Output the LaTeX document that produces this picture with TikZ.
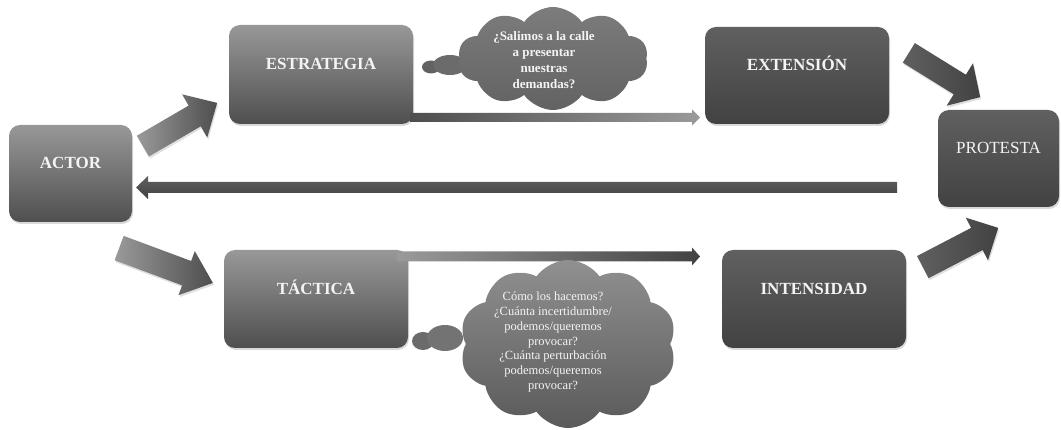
\documentclass[tikz,border=0pt]{standalone}
\usepackage{fontspec}
\setmainfont{Liberation Serif}
\usetikzlibrary{shapes.symbols,shapes.geometric,shadows}
\definecolor{boxlt}{HTML}{989898}
\definecolor{boxlb}{HTML}{4F4F4F}
\definecolor{boxdt}{HTML}{606060}
\definecolor{boxdb}{HTML}{424242}
\definecolor{arrlight}{HTML}{9A9A9A}
\definecolor{arrdark}{HTML}{4E4E4E}
\definecolor{cloudtop}{HTML}{8A8A8A}
\definecolor{cloudbot}{HTML}{5A5A5A}
\definecolor{txt}{HTML}{F4F4F4}
% #1 style, #2 centre, #3 angle, #4 half length, #5 shaft half width, #6 head half width, #7 head length
\newcommand{\myblockarrow}[7]{%
  \path[#1, shift={(#2)}, rotate=#3]
    ({-#4},{-#5}) -- ({#4-#7},{-#5}) -- ({#4-#7},{-#6}) -- ({#4},0)
    -- ({#4-#7},{#6}) -- ({#4-#7},{#5}) -- ({-#4},{#5}) -- cycle;}
\begin{document}
\begin{tikzpicture}[x=1pt,y=-1pt,
  box/.style={rounded corners=11pt, inner sep=0pt, text=txt,
    font=\fontsize{17}{20}\selectfont\bfseries, text height=12pt, text depth=21pt,
    drop shadow={opacity=0.3, shadow xshift=1pt, shadow yshift=-2pt}},
  lightbox/.style={box, top color=boxlt, bottom color=boxlb},
  darkbox/.style={box, top color=boxdt, bottom color=boxdb},
  barrow/.style={drop shadow={opacity=0.25, shadow xshift=1pt, shadow yshift=-2pt}},
  cloudshape/.style={cloud, cloud puffs=10, cloud puff arc=110, cloud ignores aspect, inner sep=0pt,
    top color=cloudtop, bottom color=cloudbot},
  puff/.style={ellipse, inner sep=0pt, fill=#1},
  cloudtext/.style={align=center, text=txt, inner sep=0pt}
]
\useasboundingbox (0,0) rectangle (1061,430);

% boxes
\node[lightbox, minimum width=123pt, minimum height=97pt] (actor) at (70.5,173.5) {ACTOR};
\node[lightbox, minimum width=184pt, minimum height=99pt] (estr) at (321,74.5) {ESTRATEGIA};
\node[darkbox, minimum width=184pt, minimum height=97pt] (ext) at (797,75.5) {EXTENSIÓN};
\node[darkbox, minimum width=121pt, minimum height=97pt, font=\fontsize{17}{20}\selectfont] (prot) at (998.5,158.5) {PROTESTA};
\node[lightbox, minimum width=184pt, minimum height=98pt] (tact) at (316,299) {TÁCTICA};
\node[darkbox, minimum width=184pt, minimum height=98pt] (inten) at (814,299) {INTENSIDAD};

% block arrows
\myblockarrow{barrow, left color=arrlight, right color=arrdark}{180,124.5}{30.2}{43}{12}{25}{26}
\myblockarrow{barrow, left color=arrlight, right color=arrdark}{166,265.5}{-20.4}{50}{13}{23.5}{28}
\myblockarrow{barrow, left color=boxdt, right color=boxdb}{944.5,75}{-31.8}{42}{11.5}{25}{24}
\myblockarrow{barrow, left color=boxdt, right color=boxdb}{960.5,247.5}{27.5}{42.5}{12.5}{24}{24}

% thin arrows
\coordinate (t1s) at (410,117.5);
\coordinate (t1e) at (700,117.5);
\path[left color=arrdark, right color=arrlight]
  ([yshift=4.5pt]t1s) -- ([xshift=-8pt,yshift=4.5pt]t1e) -- ([xshift=-8pt,yshift=8pt]t1e)
  -- (t1e) -- ([xshift=-8pt,yshift=-8pt]t1e) -- ([xshift=-8pt,yshift=-4.5pt]t1e)
  -- ([yshift=-4.5pt]t1s) -- cycle;
\coordinate (t2s) at (397,256.5);
\coordinate (t2e) at (700,256.5);
\path[left color=arrlight, right color=boxdb]
  ([yshift=5pt]t2s) -- ([xshift=-8pt,yshift=5pt]t2e) -- ([xshift=-8pt,yshift=9pt]t2e)
  -- (t2e) -- ([xshift=-8pt,yshift=-9pt]t2e) -- ([xshift=-8pt,yshift=-5pt]t2e)
  -- ([yshift=-5pt]t2s) -- cycle;

% long return arrow
\coordinate (rs) at (897,187.5);
\coordinate (re) at (136,187.5);
\path[top color=boxdt, bottom color=boxdb]
  ([yshift=5.5pt]rs) -- ([xshift=12pt,yshift=5.5pt]re) -- ([xshift=12pt,yshift=11.5pt]re)
  -- (re) -- ([xshift=12pt,yshift=-11.5pt]re) -- ([xshift=12pt,yshift=-5.5pt]re)
  -- ([yshift=-5.5pt]rs) -- cycle;

% top cloud
\node[puff=cloudbot!95!white, minimum width=18pt, minimum height=13pt] (p1a) at (431,67) {};
\node[puff=cloudbot!90!white, minimum width=34pt, minimum height=20pt] (p1b) at (450,65) {};
\node[cloudshape, minimum width=190pt, minimum height=103pt, top color=cloudtop!90!black, bottom color=cloudbot!95!white] (c1) at (553,58.5) {};
\node[cloudtext, font=\fontsize{13}{16}\selectfont\bfseries] (q1) at (544,60)
  {¿Salimos a la calle\\a presentar\\nuestras\\demandas?};

% bottom cloud
\node[puff=cloudbot!90!white, minimum width=22pt, minimum height=18pt] (p2a) at (423,341) {};
\node[puff=cloudbot!85!white, minimum width=36pt, minimum height=26pt] (p2b) at (445,338) {};
\node[cloudshape, minimum width=217pt, minimum height=168pt, top color=cloudtop!95!white] (c2) at (568,344) {};
\node[cloudtext, font=\fontsize{12.5}{14.7}\selectfont] (q2) at (553,342)
  {Cómo los hacemos?\\¿Cuánta incertidumbre/\\podemos/queremos\\provocar?\\¿Cuánta perturbación\\podemos/queremos\\provocar?};
\end{tikzpicture}
\end{document}
